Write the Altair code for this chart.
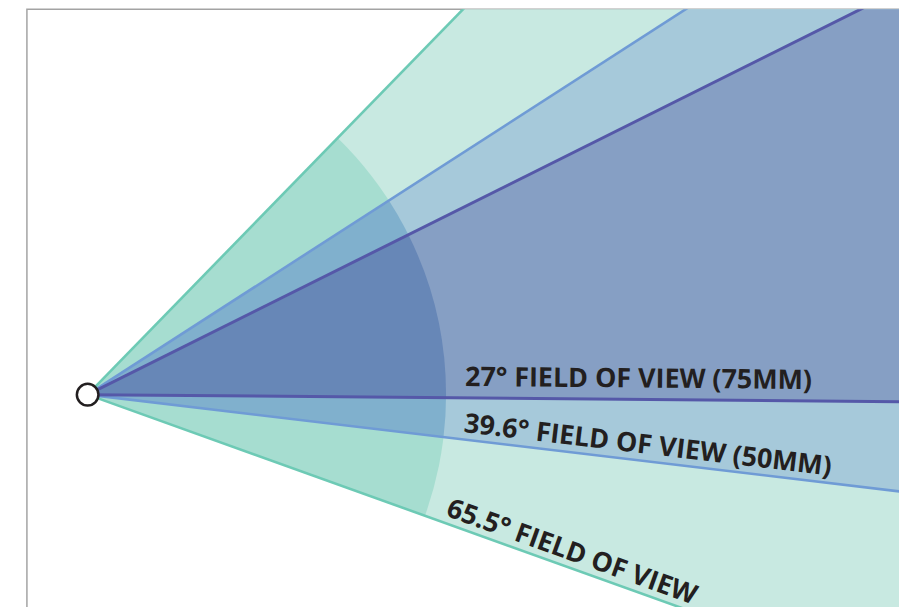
import math
import altair as alt
import pandas as pd

# ---- data: camera fields of view (degrees) ----
fov_deg = [65.5, 39.6, 27.0]
fov_label = ["65.5° FIELD OF VIEW", "39.6° FIELD OF VIEW (50MM)", "27° FIELD OF VIEW (75MM)"]
tilt_deg = 13.0      # direction of the view axis above horizontal
near_dist = 360.0    # highlighted near zone radius
label_dist = 379.0   # where the labels start along the lower edge
far_dist = 1500.0    # rays extend beyond the frame

# ---- styles ----
fill_outer = ["#c8e9e1", "#a6c9da", "#869fc4"]
fill_inner = ["#a6ddd0", "#80b0cd", "#6787b7"]
edge_col = ["#6dcab5", "#6f9bd5", "#5558a8"]
edge_w = [2.6, 2.6, 3.0]
label_gap = [7, 7.5, 12]
text_col = "#231f20"

W, H = 876, 612
xs = alt.Scale(domain=[-61, 815], nice=False, zero=False)
ys = alt.Scale(domain=[-225, 387], nice=False, zero=False)


def rad(d):
    return d * math.pi / 180.0


layers = []
for i, f in enumerate(fov_deg):
    up = tilt_deg + f / 2.0
    lo = tilt_deg - f / 2.0

    wedge = pd.DataFrame({
        "x": [0.0, far_dist],
        "y": [0.0, far_dist * math.tan(rad(up))],
        "y2": [0.0, far_dist * math.tan(rad(lo))],
    })
    layers.append(
        alt.Chart(wedge).mark_area(clip=True, color=fill_outer[i], opacity=1, interpolate="linear").encode(
            x=alt.X("x:Q", scale=xs, axis=None),
            y=alt.Y("y:Q", scale=ys, axis=None),
            y2="y2:Q",
        )
    )

    near = pd.DataFrame({
        "cx": [0.0], "cy": [0.0],
        "t1": [rad(90 - up)], "t2": [rad(90 - lo)],
        "r": [near_dist],
    })
    layers.append(
        alt.Chart(near).mark_arc(clip=True, color=fill_inner[i], opacity=1).encode(
            x=alt.X("cx:Q", scale=xs, axis=None),
            y=alt.Y("cy:Q", scale=ys, axis=None),
            theta=alt.Theta("t1:Q", scale=None),
            theta2="t2:Q",
            radius=alt.Radius("r:Q", scale=None),
        )
    )

    edges = pd.DataFrame({
        "x": [0.0, 0.0], "y": [0.0, 0.0],
        "x2": [far_dist * math.cos(rad(up)), far_dist * math.cos(rad(lo))],
        "y2": [far_dist * math.sin(rad(up)), far_dist * math.sin(rad(lo))],
    })
    layers.append(
        alt.Chart(edges).mark_rule(clip=True, color=edge_col[i], strokeWidth=edge_w[i]).encode(
            x=alt.X("x:Q", scale=xs, axis=None),
            y=alt.Y("y:Q", scale=ys, axis=None),
            x2="x2:Q", y2="y2:Q",
        )
    )

# labels
for i, f in enumerate(fov_deg):
    lo = tilt_deg - f / 2.0
    lab = pd.DataFrame({
        "x": [label_dist * math.cos(rad(lo))],
        "y": [label_dist * math.sin(rad(lo))],
        "t": [fov_label[i]],
    })
    layers.append(
        alt.Chart(lab).mark_text(
            align="left", baseline="alphabetic", angle=-lo, dy=-label_gap[i],
            font="Open Sans", fontWeight="bold", fontSize=27, color=text_col,
        ).encode(
            x=alt.X("x:Q", scale=xs, axis=None),
            y=alt.Y("y:Q", scale=ys, axis=None),
            text="t:N",
        )
    )

# camera point
cam = pd.DataFrame({"x": [0.0], "y": [0.0]})
layers.append(
    alt.Chart(cam).mark_point(shape="circle", size=470, filled=True, fill="white",
                              stroke="#231f20", strokeWidth=2.5, opacity=1).encode(
        x=alt.X("x:Q", scale=xs, axis=None),
        y=alt.Y("y:Q", scale=ys, axis=None),
    )
)

chart = alt.layer(*layers).properties(
    width=W, height=H,
    padding={"left": 19, "top": 0, "right": 0, "bottom": 0},
).configure_view(stroke="#a3a3a3", strokeWidth=1.5)

chart.save("out.html", embed_options={"renderer": "svg", "actions": False})
